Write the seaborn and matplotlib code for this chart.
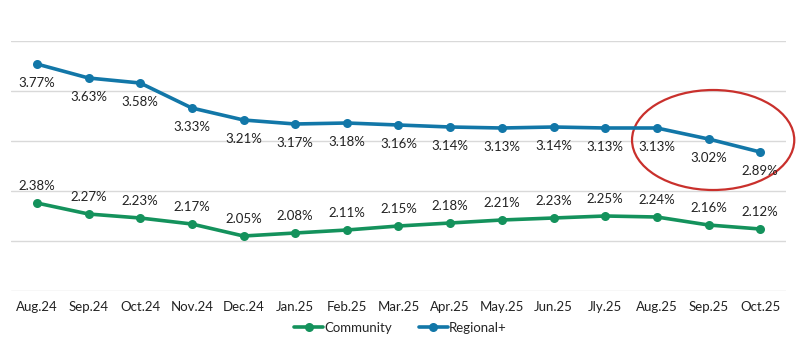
import numpy as np
import pandas as pd
import seaborn as sns
import matplotlib.pyplot as plt
from matplotlib.patches import Ellipse

months = ["Aug.24", "Sep.24", "Oct.24", "Nov.24", "Dec.24", "Jan.25", "Feb.25",
          "Mar.25", "Apr.25", "May.25", "Jun.25", "Jly.25", "Aug.25", "Sep.25", "Oct.25"]
community = [2.38, 2.27, 2.23, 2.17, 2.05, 2.08, 2.11, 2.15, 2.18, 2.21, 2.23, 2.25, 2.24, 2.16, 2.12]
regional = [3.77, 3.63, 3.58, 3.33, 3.21, 3.17, 3.18, 3.16, 3.14, 3.13, 3.14, 3.13, 3.13, 3.02, 2.89]
series_names = ["Community", "Regional+"]
colors = {"Community": "#14925C", "Regional+": "#1277A8"}

sns.set_theme(style="white")
plt.rcParams["font.family"] = ["Lato", "DejaVu Sans"]

df = pd.DataFrame({
    "pos": list(range(len(months))) * 2,
    "value": community + regional,
    "series": [series_names[0]] * len(months) + [series_names[1]] * len(months),
})

fig = plt.figure(figsize=(8.01, 3.57), dpi=100)
ax = fig.add_axes([11 / 801, 1 - 291 / 357, 775 / 801, 250 / 357])

sns.lineplot(data=df, x="pos", y="value", hue="series", palette=colors,
             marker="o", markersize=6.5, markeredgewidth=0, linewidth=2.6,
             ax=ax, legend=True)

# point labels: Regional+ below, Community above
for i, v in enumerate(regional):
    ax.annotate(f"{v:.2f}%", (i, v), xytext=(0, -13.5), textcoords="offset points",
                ha="center", va="center", fontsize=9.5, color="#222222")
for i, v in enumerate(community):
    ax.annotate(f"{v:.2f}%", (i, v), xytext=(0, 12), textcoords="offset points",
                ha="center", va="center", fontsize=9.5, color="#222222")

ax.add_patch(Ellipse((13.09, 3.01), 3.14, 1.0, fill=False, edgecolor="#C9302C",
                     linewidth=1.6, clip_on=False))

ax.set_xlim(-0.5, len(months) - 0.5)
ax.set_ylim(1.5, 4.0)
ax.set_yticks(np.arange(1.5, 4.01, 0.5))
ax.set_yticklabels([])
ax.set_xticks(range(len(months)))
ax.set_xticklabels(months, fontsize=9.5, color="#222222")
ax.tick_params(axis="both", length=0, pad=7)
ax.grid(axis="y", color="#D9D9D9", linewidth=1)
ax.set_xlabel("")
ax.set_ylabel("")
sns.despine(ax=ax, left=True, bottom=True, top=True, right=True)

handles, labels = ax.get_legend_handles_labels()
ax.get_legend().remove()
fig.legend(handles, labels, loc="center", bbox_to_anchor=(0.5, 1 - 328 / 357),
           ncol=2, frameon=False, fontsize=9.5, handlelength=2.2,
           handletextpad=0.1, columnspacing=2.0)

fig.savefig("out.png", dpi=100)
